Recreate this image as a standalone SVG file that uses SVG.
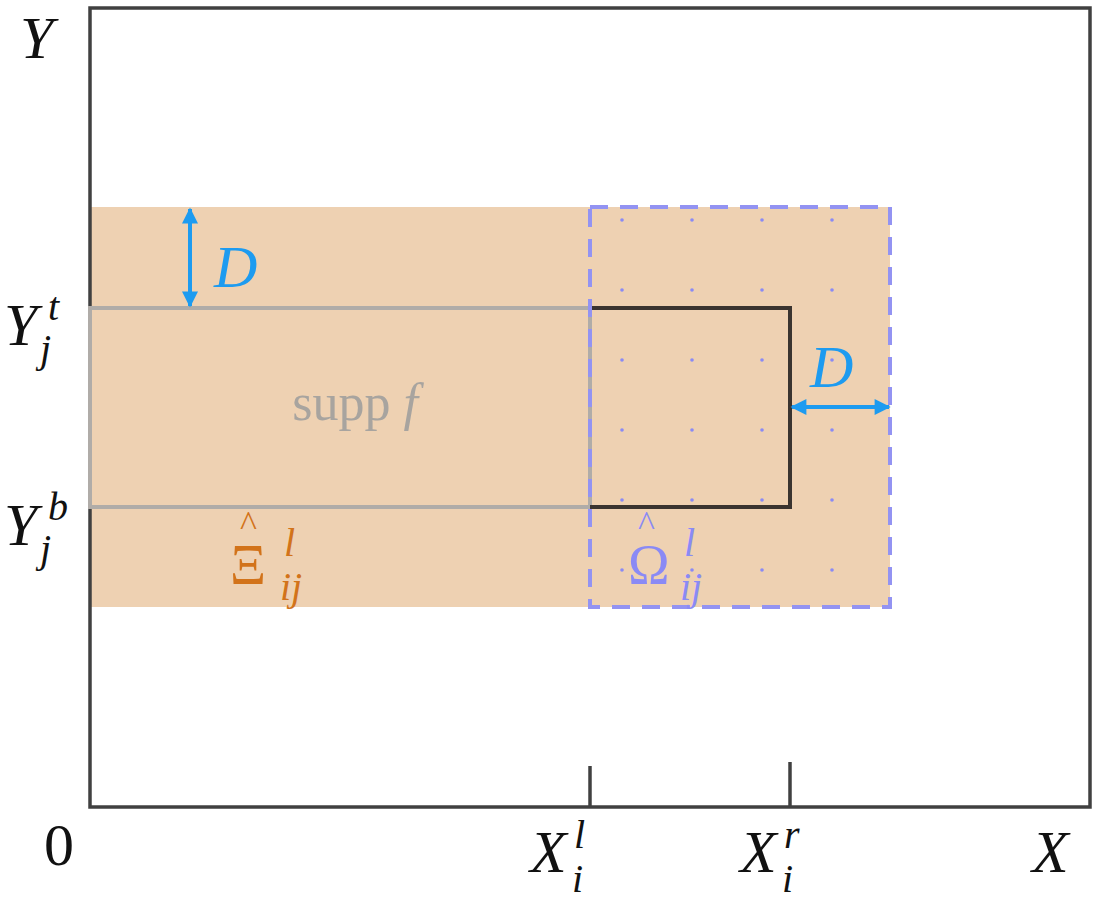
<svg xmlns="http://www.w3.org/2000/svg" width="1108" height="902" viewBox="0 0 1108 902">
<style>
.m{font-family:"Liberation Serif",serif;font-style:italic}
.r{font-family:"Liberation Serif",serif}
.dot{fill:#8a8af5}
</style>
<defs>
<marker id="ah" viewBox="0 0 10 10" refX="9" refY="5" markerWidth="6" markerHeight="4" orient="auto-start-reverse" markerUnits="strokeWidth"><path d="M0,0L10,5L0,10z" fill="#1d9bf0"/></marker>
</defs>
<rect width="1108" height="902" fill="#fff"/>
<g id="xi-region"><rect x="90" y="207" width="800" height="400" fill="#eed1b2"/></g>
<g id="omega-dots">
<g class="dot">
<circle cx="622" cy="220" r="1.8"/><circle cx="692" cy="220" r="1.8"/><circle cx="762" cy="220" r="1.8"/><circle cx="832" cy="220" r="1.8"/>
<circle cx="622" cy="290" r="1.8"/><circle cx="692" cy="290" r="1.8"/><circle cx="762" cy="290" r="1.8"/><circle cx="832" cy="290" r="1.8"/>
<circle cx="622" cy="360" r="1.8"/><circle cx="692" cy="360" r="1.8"/><circle cx="762" cy="360" r="1.8"/><circle cx="832" cy="360" r="1.8"/>
<circle cx="622" cy="430" r="1.8"/><circle cx="692" cy="430" r="1.8"/><circle cx="762" cy="430" r="1.8"/><circle cx="832" cy="430" r="1.8"/>
<circle cx="622" cy="500" r="1.8"/><circle cx="692" cy="500" r="1.8"/><circle cx="762" cy="500" r="1.8"/><circle cx="832" cy="500" r="1.8"/>
<circle cx="622" cy="570" r="1.8"/><circle cx="692" cy="570" r="1.8"/><circle cx="762" cy="570" r="1.8"/><circle cx="832" cy="570" r="1.8"/>
</g>
</g>
<g id="frame" fill="none" stroke="#404040" stroke-width="3.5">
<rect x="90" y="8" width="1000" height="799"/>
<line x1="590" y1="766" x2="590" y2="807"/>
<line x1="790" y1="762" x2="790" y2="807"/>
</g>
<g id="supp"><rect x="90" y="308" width="500" height="199" fill="none" stroke="#b0aca8" stroke-width="4"/>
<text x="355" y="420" class="r" font-size="52" fill="#a8a49f" text-anchor="middle">supp <tspan class="m">f</tspan></text></g>
<g id="box"><path d="M590,308H790V507H590" fill="none" stroke="#3a3430" stroke-width="4"/></g>
<g id="omega-border"><rect x="590" y="207" width="300" height="400" fill="none" stroke="#9393f2" stroke-width="4" stroke-dasharray="18,12"/></g>
<g id="connectors" stroke="#1d9bf0" stroke-width="4">
<line x1="190" y1="209" x2="190" y2="306" marker-start="url(#ah)" marker-end="url(#ah)"/>
<line x1="792" y1="407" x2="889" y2="407" marker-start="url(#ah)" marker-end="url(#ah)"/>
</g>
<g id="labels">
<text x="214" y="287" class="m" font-size="60" fill="#1d9bf0">D</text>
<text x="810" y="387" class="m" font-size="60" fill="#1d9bf0">D</text>
<text x="20" y="58" class="m" font-size="60" fill="#111">Y</text>
<text x="4" y="345" class="m" font-size="60" fill="#111">Y</text>
<text x="48" y="320" class="m" font-size="40" fill="#111">t</text>
<text x="40" y="362" class="m" font-size="40" fill="#111">j</text>
<text x="4" y="545" class="m" font-size="60" fill="#111">Y</text>
<text x="48" y="520" class="m" font-size="40" fill="#111">b</text>
<text x="40" y="562" class="m" font-size="40" fill="#111">j</text>
<text x="230" y="584" class="r" font-size="56" fill="#d2731a">Ξ</text>
<text x="240" y="536" class="r" font-size="36" fill="#d2731a">^</text>
<text x="284" y="556" class="m" font-size="40" fill="#d2731a">l</text>
<text x="280" y="600" class="m" font-size="40" fill="#d2731a">ij</text>
<text x="628" y="584" class="r" font-size="56" fill="#8a8af5">Ω</text>
<text x="638" y="536" class="r" font-size="36" fill="#8a8af5">^</text>
<text x="684" y="556" class="m" font-size="40" fill="#8a8af5">l</text>
<text x="680" y="600" class="m" font-size="40" fill="#8a8af5">ij</text>
<text x="44" y="865" class="r" font-size="60" fill="#111">0</text>
<text x="530" y="872" class="m" font-size="60" fill="#111">X</text>
<text x="574" y="848" class="m" font-size="40" fill="#111">l</text>
<text x="572" y="892" class="m" font-size="40" fill="#111">i</text>
<text x="740" y="872" class="m" font-size="60" fill="#111">X</text>
<text x="784" y="848" class="m" font-size="40" fill="#111">r</text>
<text x="782" y="892" class="m" font-size="40" fill="#111">i</text>
<text x="1032" y="872" class="m" font-size="60" fill="#111">X</text>
</g>
</svg>
